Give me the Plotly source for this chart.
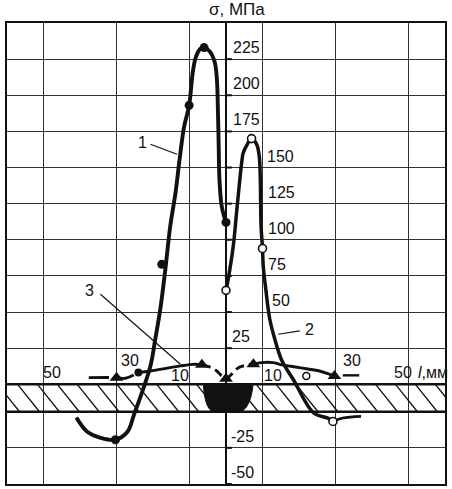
import plotly.graph_objects as go

# ---------------- data ----------------
BAND = 19.0  # height of the drawn plate strip, in MPa-equivalent units

# Curve 1 (solid dots), l in mm, sigma in MPa
c1_x = [-41, -38, -34.4, -30.3, -27, -25.2, -20.7, -19.4, -18, -16.6, -15.3, -13.8,
        -12.7, -11.5, -10.1, -9.1, -8.3, -7.1, -6, -4.5, -3.1, -2.5, -2.2, -2.0,
        -1.8, -1.2, -0.6, 0]
c1_y = [-4, -13.9, -18, -19.4, -13.9, -2, 12.7, 31, 52, 80, 109, 133,
        156, 178, 193, 216, 226, 232, 233, 230.5, 223, 211, 188, 165,
        142, 123.5, 117, 112]
c1_pts_x = [-30.3, -17.6, -10.1, -6, 0]
c1_pts_y = [-19.4, 83, 193, 233, 112]

# Curve 2 (open dots)
c2_x = [0, 0.6, 2.0, 2.9, 3.8, 4.3, 4.7, 5.6, 7.0, 8.4, 9.1, 9.4, 9.6, 10.0,
        10.2, 10.9, 12, 13.4, 15.2, 17, 18.4, 24, 27.9, 29.3]
c2_y = [65, 72.7, 95.8, 119, 142, 153.5, 160, 165, 170, 166, 158, 142, 110, 94,
        82, 65.8, 45, 31, 17, 9, 3.5, -0.8, -4.4, -6.7]
c2_tail_x = [29.3, 32, 37]
c2_tail_y = [-6.7, -4.4, -3.2]
c2_pts_x = [0, 7.0, 10.0, 29.3]
c2_pts_y = [65, 170, 94, -6.7]

# Curve 3 (triangles), split by line style
c3a_x = [-37.6, -30, -27.5, -24]
c3a_y = [4.6, 4.6, 4.2, 8.1]
c3b_x = [-24, -20.7, -12.5, -9, -6.6]
c3b_y = [8.1, 9.2, 12.7, 13.8, 13.5]
c3c_x = [-6.6, -4.5, -2.5, -1.2, 0, 1.5, 3.4, 5.6, 7.5]
c3c_y = [13.5, 12, 9.2, 5.8, 3.9, 6.9, 11.5, 13.2, 13.8]
c3d_x = [7.5, 9.7, 12.9, 14.7, 20.2, 25.6, 28.4, 29.7]
c3d_y = [13.8, 15, 15, 13.8, 11.5, 9.2, 6.9, 5.8]
c3e_x = [32, 36.5]
c3e_y = [6.2, 6.2]
c3_pts_x = [-30, -6.6, 0, 7.5, 29.7]
c3_pts_y = [4.6, 13.5, 3.9, 13.8, 5.8]
extra_solid_x = [-24]
extra_solid_y = [8.1]
extra_open_x = [22]
extra_open_y = [5.8]

# tick labels
x_grid = [-50, -30, -10, 10, 30, 50]
x_tick_text = ["50", "30", "10", "10", "30", "50"]
x_unit_text = "<i>l</i>,мм"
y_pos_ticks = [25, 50, 75, 100, 125, 150, 175, 200, 225]
y_neg_ticks = [-25, -50]
y_tick_text_pos = ["25", "50", "75", "100", "125", "150", "175", "200", "225"]
y_tick_text_neg = ["-25", "-50"]
curve_names = ["1", "2", "3"]

# ---------------- helpers / layout positions ----------------
def ty(vals):
    return [v - BAND if v < 0 else v for v in vals]

INK = "#111111"
GRID = "#333333"
FONT_N = "Liberation Sans Narrow, Arial Narrow, Liberation Sans, Arial"
FONT = "Liberation Sans, Arial"
FS = 16

fig = go.Figure()

def line_trace(xs, ys, width, dash="solid"):
    fig.add_trace(go.Scatter(x=xs, y=ty(ys), mode="lines",
                             line=dict(color=INK, width=width, shape="spline",
                                       smoothing=1.0, dash=dash),
                             hoverinfo="skip", showlegend=False))

def marker_trace(xs, ys, symbol, size, fill, lw):
    fig.add_trace(go.Scatter(x=xs, y=ty(ys), mode="markers",
                             marker=dict(symbol=symbol, size=size, color=fill,
                                         line=dict(color=INK, width=lw)),
                             hoverinfo="skip", showlegend=False))

line_trace(c1_x, c1_y, 3.9)
line_trace(c2_x, c2_y, 3.5)
line_trace(c2_tail_x, c2_tail_y, 2.6)
line_trace(c3a_x, c3a_y, 2.9, dash="20px,6px")
line_trace(c3b_x, c3b_y, 2.9)
line_trace(c3c_x, c3c_y, 2.9, dash="9px,5px")
line_trace(c3d_x, c3d_y, 2.9)
line_trace(c3e_x, c3e_y, 2.4)

marker_trace(c1_pts_x, c1_pts_y, "circle", 9, INK, 0)
marker_trace(c2_pts_x, c2_pts_y, "circle", 8, "white", 1.6)
marker_trace(c3_pts_x, c3_pts_y, "triangle-up", 12, INK, 0)
marker_trace(extra_solid_x, extra_solid_y, "circle", 8, INK, 0)
marker_trace(extra_open_x, extra_open_y, "circle", 7, "white", 1.5)

shapes = []
# hatching of the plate strip
HATCH_STEP, HATCH_DX = 5.45, 6.0
hx = -68.0
while hx < 62:
    shapes.append(dict(type="line", xref="x", yref="y", x0=hx, y0=0,
                       x1=hx + HATCH_DX, y1=-BAND, layer="between",
                       line=dict(color=INK, width=1.3)))
    hx += HATCH_STEP
# plate edges
for yy in (0, -BAND):
    shapes.append(dict(type="line", xref="x", yref="y", x0=-60, x1=60, y0=yy, y1=yy,
                       layer="between", line=dict(color=INK, width=2.6)))
# central axis
shapes.append(dict(type="line", xref="x", yref="y", x0=0, x1=0, y0=-50 - BAND, y1=250,
                   layer="between", line=dict(color=INK, width=2)))
for v in ty(y_pos_ticks + y_neg_ticks):
    shapes.append(dict(type="line", xref="x", yref="y", x0=-0.3, x1=1.6, y0=v, y1=v,
                       layer="between", line=dict(color=INK, width=2)))
# weld seam
B = BAND
weld = (f"M -6.2,0 C -6.0,{-0.55*B} -5.0,{-B} -3.2,{-B} L 3.5,{-B} "
        f"C 5.6,{-B} 7.1,{-0.55*B} 7.4,0 Z")
shapes.append(dict(type="path", xref="x", yref="y", path=weld, layer="between",
                   fillcolor=INK, line=dict(color=INK, width=1)))
# leader lines of the curve numbers
leaders = [((-20.7, 166.1), (-13.4, 159.2)),
           ((20.2, 36.9), (14.3, 34.6)),
           ((-34.4, 62.3), (-12.5, 13.9))]
for (a, b) in leaders:
    shapes.append(dict(type="line", xref="x", yref="y", x0=a[0], y0=a[1], x1=b[0], y1=b[1],
                       layer="above", line=dict(color=INK, width=1.2)))

ann = []
def text(x, y, s, xa="center", ya="middle", font=FONT_N, size=FS, yref="y", yshift=0):
    ann.append(dict(x=x, y=y, xref="x", yref=yref, text=s, showarrow=False,
                    xanchor=xa, yanchor=ya, yshift=yshift,
                    font=dict(family=font, size=size, color=INK)))

# y tick labels
y_lab_x_pos = [1.2, 12.1, 11.0, 11.0, 11.0, 10.8, 1.5, 1.5, 1.5]
for v, s, xx in zip(y_pos_ticks, y_tick_text_pos, y_lab_x_pos):
    text(xx, v, s, xa="left", ya="bottom", yshift=1)
y_lab_x_neg = [0.7, 0.7]
for v, s, xx in zip(ty(y_neg_ticks), y_tick_text_neg, y_lab_x_neg):
    text(xx, v, s, xa="left", ya="bottom", yshift=1)

# x tick labels
x_lab_pos = [(-47.6, 8), (-26.3, 16.6), (-12.5, 5.9), (13.0, 5.9), (34.5, 16.6),
             (48.6, 8)]
for (xx, yy), s in zip(x_lab_pos, x_tick_text):
    text(xx, yy, s)
text(52.0, 8, x_unit_text, xa="left")

# curve numbers
for (xx, yy), s in zip([(-22.8, 167.2), (23.0, 37.7), (-37.4, 64.6)], curve_names):
    text(xx, yy, s)

# axis title
ann.append(dict(x=3.0, y=1, xref="x", yref="paper", text="σ, МПа", showarrow=False,
                xanchor="center", yanchor="bottom", yshift=2,
                font=dict(family=FONT, size=17, color=INK)))

fig.update_layout(
    width=452, height=489,
    margin=dict(l=7, r=5, t=23, b=5),
    paper_bgcolor="white", plot_bgcolor="white",
    shapes=shapes, annotations=ann, showlegend=False,
    xaxis=dict(range=[-60, 60], tickvals=x_grid, showticklabels=False, ticks="",
               showgrid=True, gridcolor=GRID, gridwidth=1.2, zeroline=False,
               showline=True, mirror=True, linecolor=INK, linewidth=1.6, fixedrange=True),
    yaxis=dict(range=[-50 - BAND, 250], tickvals=y_pos_ticks + ty([-25]),
               showticklabels=False, ticks="", showgrid=True, gridcolor=GRID,
               gridwidth=1.2, zeroline=False, showline=True, mirror=True,
               linecolor=INK, linewidth=1.6, fixedrange=True),
)

fig.write_html("out.html", config={"displayModeBar": False},
               post_script="document.body.style.margin='0';")
